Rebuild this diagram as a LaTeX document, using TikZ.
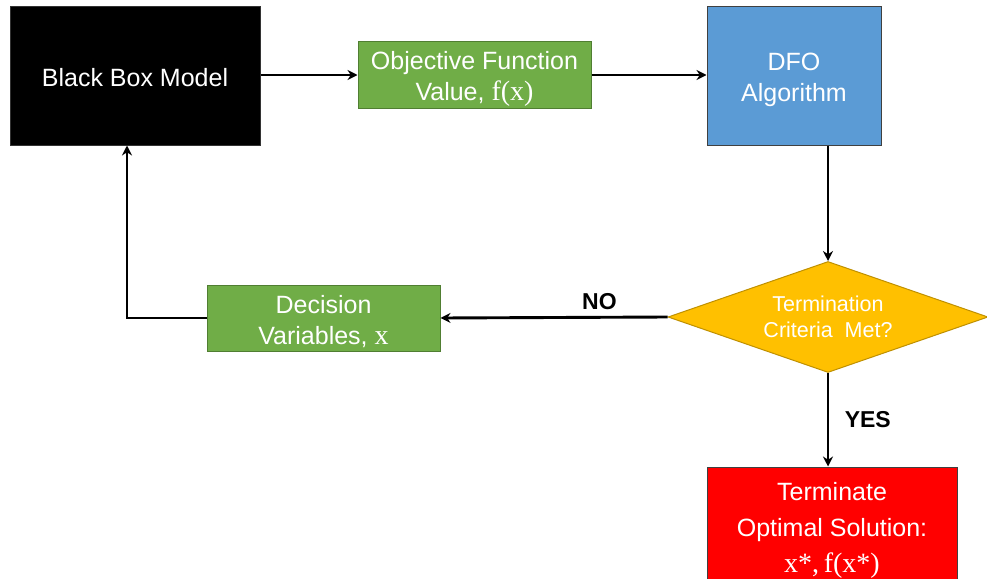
\documentclass[tikz,border=0pt]{standalone}
\usepackage{fontspec}
\setmainfont{Liberation Sans}
\newfontfamily\mathserif[Scale=1.12]{Liberation Serif}
\usetikzlibrary{shapes.geometric,arrows.meta}

\definecolor{boxgreen}{HTML}{70AD47}
\definecolor{boxgreenline}{HTML}{507E32}
\definecolor{boxblue}{HTML}{5B9BD5}
\definecolor{boxgold}{HTML}{FFC000}
\definecolor{boxgoldline}{HTML}{BF9000}
\definecolor{boxred}{HTML}{FF0000}

% extra room above the first line so the text block sits a little lower
\newcommand{\lowertext}[1]{\rule{0pt}{#1}}

\tikzset{
  base/.style={align=center, text=white, inner sep=0pt, line width=1pt,
    font=\fontsize{25}{31}\selectfont},
  blackbox/.style={base, fill=black, draw=black!80, minimum width=250, minimum height=138},
  greenbox/.style={base, fill=boxgreen, draw=boxgreenline, minimum width=233, minimum height=66},
  bluebox/.style={base, fill=boxblue, draw=black!75, minimum width=174, minimum height=138},
  decision/.style={base, diamond, aspect=2.88, fill=boxgold, draw=boxgoldline,
    minimum width=320, minimum height=111, font=\fontsize{21.5}{26}\selectfont},
  redbox/.style={base, fill=boxred, draw=black!75, minimum width=250, minimum height=126,
    font=\fontsize{25}{36}\selectfont},
  flow/.style={line width=2.9pt, -{Stealth[length=10pt,width=10pt]}},
  answer/.style={font=\bfseries\fontsize{23}{26}\selectfont, text=black}
}

\begin{document}
\begin{tikzpicture}[x=1pt,y=-1pt]
  \useasboundingbox (0,0) rectangle (987,578);
  \clip (0,0) rectangle (987,578);

  % process blocks
  \node[blackbox] (model) at (135,76) {\lowertext{22pt}Black Box Model};
  \node[greenbox] (obj) at (474.5,75) {\lowertext{26pt}Objective Function\\Value, {\mathserif f(x)}};
  \node[bluebox] (dfo) at (794,76) {\lowertext{26pt}DFO\\Algorithm};
  \node[decision] (check) at (828,317) {Termination\\Criteria\ \ Met?};
  \node[greenbox] (vars) at (323.5,318) {\lowertext{26pt}Decision\\Variables, {\mathserif x}};
  \node[redbox] (done) at (832,530) {Terminate\\Optimal Solution:\\{\mathserif x*,\,f(x*)}};

  % connectors
  \draw[flow] (model.east |- obj.west) -- (obj.west);
  \draw[flow] (obj.east) -- (obj.east -| dfo.west);
  \draw[flow] (check.north |- dfo.south) -- (check.north);
  \draw[flow] (check.west) -- (vars.east)
    node[answer, pos=0.3, above=3pt] {NO};
  \draw[flow] (vars.west) -| ([xshift=-8pt]model.south);
  \draw[flow] (check.south) -- (check.south |- done.north)
    node[answer, midway, right=12pt] {YES};
\end{tikzpicture}
\end{document}
